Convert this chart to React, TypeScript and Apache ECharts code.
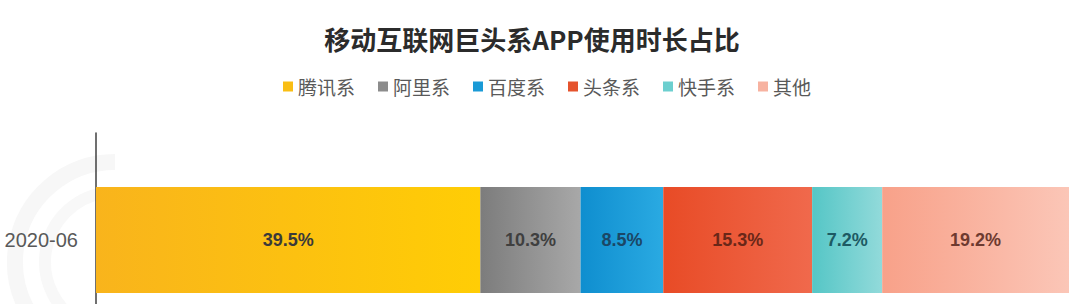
import React, { useEffect, useRef } from "react";
import * as echarts from "echarts";

const categories = ["2020-06"];
const seriesNames = ["腾讯系", "阿里系", "百度系", "头条系", "快手系", "其他"];
const tencent = [39.5];
const alibaba = [10.3];
const baidu = [8.5];
const toutiao = [15.3];
const kuaishou = [7.2];
const others = [19.2];
const seriesValues = [tencent, alibaba, baidu, toutiao, kuaishou, others];

const gradients: [string, string][] = [
  ["#F9B41C", "#FFCD05"],
  ["#7C7C7C", "#A8A8A8"],
  ["#0F8ECF", "#2AAAE2"],
  ["#E84B26", "#F0694C"],
  ["#55C6C6", "#92DADA"],
  ["#F8A189", "#FBC6B7"],
];
const legendColors = ["#F9BE14", "#8C8C8C", "#1A9AD6", "#E5532D", "#6CCFCF", "#F7B2A0"];
const labelColors = ["#3A3A3A", "#3F3F3F", "#1B4766", "#6A2718", "#1D5A63", "#6E3A30"];

export default function App() {
  const ref = useRef<HTMLDivElement>(null);
  useEffect(() => {
    if (!ref.current) return;
    const chart = echarts.init(ref.current, undefined, { renderer: "svg" });
    chart.setOption({
      animation: false,
      backgroundColor: "#ffffff",
      title: {
        text: "移动互联网巨头系APP使用时长占比",
        left: 527,
        textAlign: "center",
        top: 20,
        textStyle: {
          fontFamily: "Noto Sans CJK SC",
          fontSize: 26,
          fontWeight: "bold",
          color: "#2B2B2B",
        },
      },
      legend: {
        left: 278,
        top: 72,
        itemWidth: 10,
        itemHeight: 10,
        itemGap: 23,
        icon: "rect",
        textStyle: {
          fontFamily: "Noto Sans CJK SC",
          fontSize: 19,
          color: "#595959",
        },
        data: seriesNames.map((n, i) => ({ name: n, itemStyle: { color: legendColors[i] } })),
      },
      graphic: [
        {
          type: "arc",
          z: -10,
          shape: { cx: 115, cy: 262, r: 100, startAngle: Math.PI * 0.6, endAngle: Math.PI * 1.5 },
          style: { stroke: "#F7F7F7", lineWidth: 16, fill: "none" },
          silent: true,
        },
        {
          type: "arc",
          z: -10,
          shape: { cx: 115, cy: 262, r: 70, startAngle: Math.PI * 0.65, endAngle: Math.PI * 1.45 },
          style: { stroke: "#F8F8F8", lineWidth: 12, fill: "none" },
          silent: true,
        },
      ],
      grid: { left: 96, right: 11, top: 133, bottom: 13, containLabel: false },
      xAxis: {
        type: "value",
        min: 0,
        max: 100,
        show: false,
      },
      yAxis: {
        type: "category",
        data: categories,
        axisLine: { show: true, lineStyle: { color: "#404040", width: 1.5 } },
        axisTick: { show: false },
        axisLabel: {
          margin: 18,
          fontFamily: "Liberation Sans",
          fontSize: 20,
          color: "#595959",
        },
      },
      series: seriesNames.map((name, i) => ({
        name,
        type: "bar",
        stack: "total",
        barWidth: 106,
        data: seriesValues[i],
        itemStyle: {
          color: new echarts.graphic.LinearGradient(0, 0, 1, 0, [
            { offset: 0, color: gradients[i][0] },
            { offset: 1, color: gradients[i][1] },
          ]),
        },
        label: {
          show: true,
          position: "inside",
          formatter: (p: any) => p.value.toFixed(1) + "%",
          fontFamily: "Liberation Sans",
          fontSize: 18,
          fontWeight: "bold",
          color: labelColors[i],
        },
      })),
    });
    return () => chart.dispose();
  }, []);
  return (
    <div style={{ position: "absolute", left: 0, top: 0, width: 1080, height: 304, overflow: "hidden" }}>
      <div ref={ref} style={{ width: 1080, height: 360 }} />
    </div>
  );
}
